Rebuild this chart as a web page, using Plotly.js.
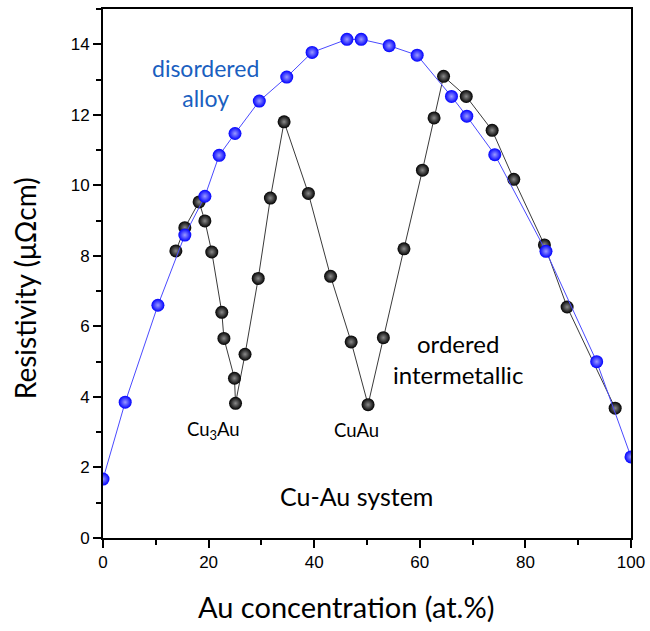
<!DOCTYPE html>
<html>
<head>
<meta charset="utf-8">
<script src="https://cdn.plot.ly/plotly-3.0.1.min.js"></script>
<style>html,body{margin:0;padding:0;background:#fff;}#chart{width:650px;height:631px;}</style>
</head>
<body>
<div id="chart"></div>
<script>
// Disordered alloy (blue)
const disorderedX = [0, 4.2, 10.4, 15.5, 19.3, 22.0, 25.0, 29.6, 34.8, 39.6, 46.2, 48.9, 54.2, 59.5, 66.0, 68.9, 74.2, 83.9, 93.5, 100];
const disorderedY = [1.67, 3.85, 6.60, 8.59, 9.69, 10.85, 11.47, 12.39, 13.07, 13.77, 14.14, 14.14, 13.96, 13.69, 12.52, 11.96, 10.87, 8.13, 5.00, 2.30];
// Ordered intermetallic (black)
const orderedX = [13.8, 15.5, 18.2, 19.3, 20.6, 22.5, 22.9, 24.9, 25.1, 26.9, 29.4, 31.7, 34.3, 38.9, 43.1, 47.0, 50.2, 53.1, 57.0, 60.5, 62.7, 64.5, 68.8, 73.7, 77.8, 83.6, 87.9, 97.0];
const orderedY = [8.14, 8.80, 9.53, 8.99, 8.11, 6.40, 5.66, 4.53, 3.82, 5.21, 7.36, 9.64, 11.80, 9.77, 7.42, 5.56, 3.78, 5.68, 8.20, 10.43, 11.91, 13.09, 12.52, 11.56, 10.17, 8.31, 6.55, 3.68];
const xTicks = [0, 20, 40, 60, 80, 100];
const yTicks = [0, 2, 4, 6, 8, 10, 12, 14];

const textFont = 'Lato, "Open Sans", sans-serif';

const traces = [
  {
    x: orderedX, y: orderedY, type: 'scatter', mode: 'lines+markers', name: 'ordered intermetallic',
    line: {color: '#3a3a3a', width: 1},
    marker: {size: 13, color: '#000000', gradient: {type: 'radial', color: '#8a8a8a'}, line: {width: 0}}
  },
  {
    x: disorderedX, y: disorderedY, type: 'scatter', mode: 'lines+markers', name: 'disordered alloy',
    line: {color: '#4a4aff', width: 1},
    marker: {size: 13, color: '#0000ff', gradient: {type: 'radial', color: '#9a9aff'}, line: {width: 0}}
  }
];

const layout = {
  width: 650, height: 631,
  margin: {l: 103, r: 19, t: 9, b: 93},
  paper_bgcolor: '#ffffff', plot_bgcolor: '#ffffff',
  showlegend: false,
  font: {family: '"Liberation Sans", Arial, sans-serif', color: '#000'},
  xaxis: {
    range: [0, 100], tickvals: xTicks, ticktext: xTicks.map(String),
    ticks: 'outside', ticklen: 8, tickwidth: 2, tickcolor: '#000',
    minor: {dtick: 10, ticks: 'outside', ticklen: 5, tickwidth: 2, tickcolor: '#000'},
    showline: true, linewidth: 2, linecolor: '#000', mirror: true,
    showgrid: false, zeroline: false,
    tickfont: {size: 17, family: '"Liberation Sans", Arial, sans-serif'}
  },
  yaxis: {
    range: [0, 15], tickvals: yTicks, ticktext: yTicks.map(String),
    ticks: 'outside', ticklen: 8, tickwidth: 2, tickcolor: '#000',
    minor: {dtick: 1, ticks: 'outside', ticklen: 5, tickwidth: 2, tickcolor: '#000'},
    showline: true, linewidth: 2, linecolor: '#000', mirror: true,
    showgrid: false, zeroline: false,
    tickfont: {size: 17, family: '"Liberation Sans", Arial, sans-serif'}
  },
  annotations: [
    {text: 'Au concentration (at.%)', xref: 'paper', yref: 'paper', x: (346 - 103) / 528, y: -(607 - 538) / 529.5,
     xanchor: 'center', yanchor: 'middle', showarrow: false, font: {family: textFont, size: 29, color: '#000'}},
    {text: 'Resistivity (μΩcm)', xref: 'paper', yref: 'paper', x: -(103 - 25) / 528, y: (538 - 288) / 529.5, textangle: -90,
     xanchor: 'center', yanchor: 'middle', showarrow: false, font: {family: textFont, size: 28, color: '#000'}},
    {text: 'disordered<br>alloy', xref: 'x', yref: 'y', x: 19.4, y: 12.9, xanchor: 'center', yanchor: 'middle', showarrow: false,
     align: 'center', font: {family: textFont, size: 23, color: '#1a5fc0'}},
    {text: 'ordered<br>intermetallic', xref: 'x', yref: 'y', x: 67.2, y: 5.08, xanchor: 'center', yanchor: 'middle', showarrow: false,
     align: 'center', font: {family: textFont, size: 24, color: '#000'}},
    {text: 'Cu<sub>3</sub>Au', xref: 'x', yref: 'y', x: 21.0, y: 3.05, xanchor: 'center', yanchor: 'middle', showarrow: false,
     font: {family: textFont, size: 18.5, color: '#000'}},
    {text: 'CuAu', xref: 'x', yref: 'y', x: 48.1, y: 3.05, xanchor: 'center', yanchor: 'middle', showarrow: false,
     font: {family: textFont, size: 18.5, color: '#000'}},
    {text: 'Cu-Au system', xref: 'x', yref: 'y', x: 48.0, y: 1.18, xanchor: 'center', yanchor: 'middle', showarrow: false,
     font: {family: textFont, size: 25, color: '#000'}}
  ]
};

Plotly.newPlot('chart', traces, layout, {displayModeBar: false, staticPlot: true});
</script>
</body>
</html>
